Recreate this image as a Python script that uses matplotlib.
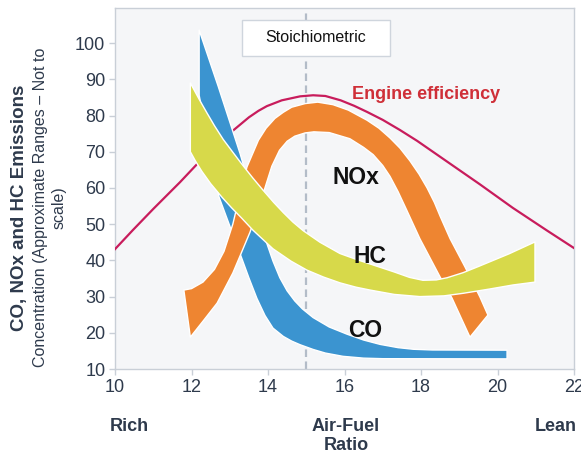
import matplotlib
matplotlib.use("Agg")
import matplotlib.pyplot as plt
from matplotlib.patches import Rectangle
from matplotlib.transforms import blended_transform_factory

plt.rcParams['font.family'] = ['Liberation Sans', 'DejaVu Sans']

# ---- data ----
# engine efficiency curve
eff_x = [10.0, 10.47, 11.0, 11.7, 12.12, 12.6, 13.08, 13.5, 13.75, 13.97, 14.36,
         14.84, 15.18, 15.5, 15.9, 16.25, 16.59, 17.0, 17.45, 17.9, 18.31, 19.54,
         20.4, 21.3, 22.0]
eff_y = [43.1, 48.4, 54.2, 61.6, 66.3, 71.5, 75.8, 79.5, 81.3, 82.6, 84.2,
         85.3, 85.6, 85.4, 84.2, 82.7, 81.0, 78.8, 76.0, 73.0, 70.0, 61.0,
         54.5, 48.2, 43.4]

# CO band (upper and lower edges)
co_top_x = [12.2, 12.7, 13.27, 13.6, 13.92, 14.13, 14.31, 14.5, 14.7, 14.9, 15.18,
            15.6, 16.07, 16.5, 16.93, 17.4, 17.8, 18.3, 20.25]
co_top_y = [103.6, 88.0, 69.5, 57.5, 46.2, 39.8, 35.2, 31.6, 28.8, 26.6, 24.2,
            21.6, 19.6, 18.0, 16.8, 15.9, 15.45, 15.25, 15.2]
co_bot_x = [12.2, 12.72, 13.32, 13.5, 13.71, 13.92, 14.13, 14.4, 14.62, 14.84, 15.18,
            15.5, 15.96, 16.5, 17.0, 20.25]
co_bot_y = [85.6, 57.5, 40.4, 35.2, 29.5, 24.8, 21.3, 19.0, 17.7, 16.7, 15.4,
            14.4, 13.5, 13.0, 12.85, 12.8]

# NOx band (outer and inner edges of the arch)
nox_out_x = [11.8, 12.0, 12.3, 12.6, 12.85, 13.08, 13.25, 13.45, 13.75, 13.95, 14.18,
             14.4, 14.62, 14.97, 15.3, 15.7, 16.1, 16.59, 16.9, 17.19, 17.45, 17.71,
             17.95, 18.16, 18.35, 18.5, 18.76, 19.15, 19.54, 19.75]
nox_out_y = [31.8, 32.2, 34.0, 37.5, 42.5, 50.0, 57.5, 65.8, 73.2, 76.5, 79.2,
             80.9, 82.3, 83.3, 83.7, 83.0, 81.5, 78.7, 76.5, 73.8, 71.0, 67.5,
             63.8, 60.0, 56.0, 52.2, 46.0, 38.2, 29.9, 24.9]
nox_in_x = [11.97, 12.3, 12.67, 13.08, 13.3, 13.53, 13.8, 14.1, 14.3, 14.5, 14.7,
            14.97, 15.2, 15.6, 16.14, 16.5, 16.75, 17.0, 17.19, 17.4, 17.63, 17.97,
            18.5, 18.81, 19.28]
nox_in_y = [18.8, 23.2, 28.2, 36.5, 42.0, 47.8, 56.0, 66.0, 70.4, 72.9, 74.3,
            75.2, 75.5, 75.3, 73.6, 71.2, 69.2, 66.2, 63.2, 59.0, 53.8, 46.0,
            35.4, 29.6, 18.8]

# HC band (upper and lower edges)
hc_top_x = [11.97, 12.2, 12.4, 12.6, 12.83, 13.05, 13.3, 13.6, 13.87, 14.15, 14.4,
            14.65, 14.92, 15.36, 15.88, 16.3, 16.67, 17.3, 17.7, 18.05, 18.4, 18.68,
            19.1, 19.5, 20.3, 20.98]
hc_top_y = [89.0, 84.5, 80.8, 77.2, 73.4, 70.3, 66.8, 62.8, 59.4, 56.0, 53.2,
            50.6, 48.2, 45.0, 41.9, 40.3, 39.0, 36.8, 35.3, 34.5, 34.6, 35.2,
            36.6, 38.3, 41.8, 45.1]
hc_bot_x = [11.97, 12.1, 12.27, 12.5, 12.8, 13.05, 13.3, 13.61, 14.13, 14.6, 15.02,
            15.45, 15.88, 16.3, 16.67, 17.3, 17.97, 18.6, 19.1, 19.8, 20.4, 20.98]
hc_bot_y = [70.0, 67.5, 64.6, 61.2, 57.4, 54.5, 51.8, 48.3, 43.2, 39.8, 37.3,
            35.4, 33.8, 32.6, 31.8, 30.6, 30.0, 30.2, 30.9, 32.1, 33.2, 34.0]

stoich_x = 15.0
x_ticks = [10, 12, 14, 16, 18, 20, 22]
y_ticks = [10, 20, 30, 40, 50, 60, 70, 80, 90, 100]

# ---- colours ----
c_co = '#3b94d0'
c_nox = '#ee8531'
c_hc = '#d7d94a'
c_eff = '#c81c5c'
c_eff_txt = '#cf2f38'
c_axis_txt = '#2e3a4c'
c_grid = '#c9cfd7'


def band(ax, top_x, top_y, bot_x, bot_y, color, z):
    xs = list(top_x) + list(bot_x)[::-1]
    ys = list(top_y) + list(bot_y)[::-1]
    ax.fill(xs, ys, facecolor=color, edgecolor='white', linewidth=1.0,
            joinstyle='round', zorder=z)


fig = plt.figure(figsize=(5.81, 4.54), dpi=100)
ax = fig.add_axes([115 / 581, 85 / 454, 459 / 581, 361 / 454])
ax.set_facecolor('#f5f6f8')

ax.set_xlim(10, 22)
ax.set_ylim(10, 109.7)

# stoichiometric dashed line + label box
ax.axvline(stoich_x, color='#b3bcc8', linewidth=1.6, dashes=(3.4, 2.0), zorder=1)
ax.add_patch(Rectangle((13.31, 96.5), 3.89, 9.9, facecolor='white',
                       edgecolor='#cfd5dd', linewidth=1.0, zorder=2))
ax.text(15.25, 101.45, 'Stoichiometric', ha='center', va='center',
        fontsize=11.5, color='#111111', zorder=3)

# efficiency curve sits under the bands
ax.plot(eff_x, eff_y, color=c_eff, linewidth=1.6, zorder=3,
        solid_joinstyle='round')

band(ax, co_top_x, co_top_y, co_bot_x, co_bot_y, c_co, 4)
band(ax, nox_out_x, nox_out_y, nox_in_x, nox_in_y, c_nox, 5)
band(ax, hc_top_x, hc_top_y, hc_bot_x, hc_bot_y, c_hc, 6)

# curve labels
ax.text(16.3, 63.0, 'NOx', fontsize=16.5, fontweight='bold', color='#111111',
        ha='center', va='center', zorder=7)
ax.text(16.67, 41.0, 'HC', fontsize=16.5, fontweight='bold', color='#111111',
        ha='center', va='center', zorder=7)
ax.text(16.54, 20.6, 'CO', fontsize=16.5, fontweight='bold', color='#111111',
        ha='center', va='center', zorder=7)
ax.text(18.14, 85.8, 'Engine efficiency', fontsize=13, fontweight='bold',
        color=c_eff_txt, ha='center', va='center', zorder=7)

# axes styling
ax.set_xticks(x_ticks)
ax.set_yticks(y_ticks)
ax.tick_params(axis='both', labelsize=13, colors=c_grid, labelcolor=c_axis_txt,
               length=4, width=1, direction='out', pad=3)
for s in ax.spines.values():
    s.set_color(c_grid)
    s.set_linewidth(1.0)

# x-axis descriptors
trans = blended_transform_factory(ax.transData, ax.transAxes)
ax.text(10.37, -0.136, 'Rich', transform=trans, ha='center', va='top',
        fontsize=13, fontweight='bold', color=c_axis_txt)
ax.text(16.04, -0.136, 'Air-Fuel\nRatio', transform=trans, ha='center', va='top',
        fontsize=13, fontweight='bold', color=c_axis_txt, linespacing=1.15)
ax.text(21.52, -0.136, 'Lean', transform=trans, ha='center', va='top',
        fontsize=13, fontweight='bold', color=c_axis_txt)

# y-axis title
fig.text(20 / 581, 1 - 207.5 / 454, 'CO, NOx and HC Emissions', rotation=90,
         ha='center', va='center', fontsize=13.5, fontweight='bold',
         color=c_axis_txt)
fig.text(50 / 581, 1 - 207.5 / 454,
         'Concentration (Approximate Ranges \u2013 Not to\nscale)', rotation=90,
         ha='center', va='center', multialignment='center', fontsize=11.5,
         color=c_axis_txt, linespacing=1.25)

fig.savefig('out.png', dpi=100, facecolor='white')
